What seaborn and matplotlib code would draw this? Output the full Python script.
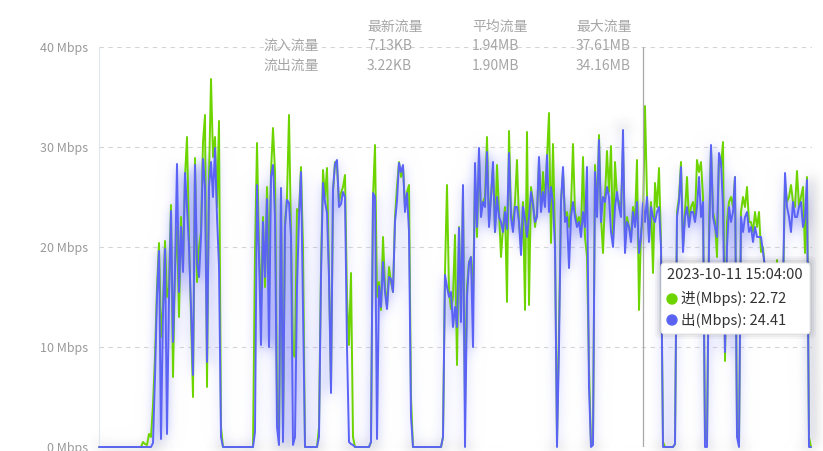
import matplotlib
matplotlib.use('Agg')
import matplotlib.pyplot as plt
from matplotlib.patches import FancyBboxPatch, Circle
from matplotlib.transforms import IdentityTransform
import seaborn as sns
import pandas as pd
import numpy as np


# traffic samples (Mbps), one every 3 minutes
flow_out = [
    0, 0, 0, 0, 0, 0, 0, 0, 0, 0,
    0, 0, 0, 0, 0, 0, 0, 0, 0, 0,
    0, 0, 0, 0, 0, 0, 0, 0.4, 7, 15,
    19.6, 0.8, 13.5, 19.8, 1.3, 15, 23.6, 10.5, 17.5, 28.3,
    15.5, 22, 17.5, 27.4, 24, 20, 14, 7.2, 28.2, 18.5,
    17, 21, 28.8, 26, 8.5, 26, 28.5, 25, 29.9, 23,
    18, 1, 0, 0, 0, 0, 0, 0, 0, 0,
    0, 0, 0, 0, 0, 0, 0, 0, 1.5, 26.2,
    19, 10.2, 22.5, 17, 24.8, 10, 27, 28.2, 23, 2,
    0.2, 25.9, 0.5, 22, 24.7, 24.4, 21, 0.2, 1, 16,
    23, 27.5, 14, 0, 0, 0, 0, 0, 0, 0,
    1, 17, 26.4, 24.5, 23.4, 17, 5.4, 25.7, 28.3, 28.7,
    24, 24.3, 25.5, 25, 10, 0.5, 0.3, 0.2, 0, 0,
    0, 0, 0, 0, 0, 0, 0.5, 25.4, 25, 0.8,
    16.1, 14, 18.5, 15.5, 13.8, 17, 16.8, 15.5, 22.5, 24.6,
    28.4, 27.5, 28.2, 23.5, 25.4, 21.5, 3, 0, 0, 0,
    0, 0, 0, 0, 0, 0, 0, 0, 0, 0,
    0, 0, 1, 17.2, 16, 15, 15.5, 12, 14, 12,
    21.9, 12.5, 26.2, 0, 15, 18.4, 19, 10, 28.4, 22,
    29.9, 23, 24.5, 24, 29.5, 22, 25, 28.5, 21.5, 25,
    23, 22.5, 21.5, 23.5, 21.8, 29.4, 23, 21.5, 24, 24,
    22.5, 19.2, 24, 22.8, 21, 23, 25.5, 24.2, 22.5, 23,
    29, 23.5, 25.5, 24, 29.2, 23.5, 26, 24.4, 20, 0,
    10, 24.5, 28, 22.5, 23, 17.9, 23, 24.5, 23, 22,
    22.5, 21, 23.5, 22, 28, 6, 0, 0.2, 27.5, 23,
    30.7, 22.5, 25, 24.5, 26, 25, 21.5, 20, 24, 25.5,
    24, 23, 31.7, 19.4, 22.5, 22, 20.5, 23.5, 22, 24.5,
    19.4, 21, 24.41, 22.5, 25, 20.5, 24, 23, 22.5, 23.5,
    24, 20, 0, 0, 0, 0, 0, 0, 0.3, 23,
    24.5, 28, 19.5, 23, 24, 22, 23.5, 23.5, 22.5, 24,
    27, 23, 24.5, 0, 0, 20, 30.2, 23, 22, 21,
    29.4, 28.5, 24, 9.5, 20, 24, 22.5, 23.5, 27, 1,
    0, 23, 21.5, 23, 23.5, 21.5, 22, 20.5, 22, 21,
    21, 21, 19.5, 18, 14.5, 15, 14, 14.5, 15.5, 17.5,
    15, 17, 16, 27.4, 24, 23, 21.5, 24.5, 23, 23,
    24, 24.5, 22, 23, 26.7, 0, 0,
]
flow_in = [
    0, 0, 0, 0, 0, 0, 0, 0, 0, 0,
    0, 0, 0, 0, 0, 0, 0, 0, 0, 0,
    0, 0, 0.5, 0.3, 0.2, 1.3, 1.0, 4.2, 9, 16,
    20.4, 11, 14, 20.6, 15, 16, 24.2, 7, 18, 22,
    13, 23, 18, 27, 31, 21, 13, 5, 28.9, 16.5,
    20, 21.5, 30.5, 33.2, 6, 27, 36.8, 29, 31, 24,
    32.6, 2, 0, 0, 0, 0, 0, 0, 0, 0,
    0, 0, 0, 0, 0, 0, 0, 0, 19.4, 30.4,
    20, 14, 23, 16, 26, 18, 27.5, 31.9, 27.5, 5,
    0.5, 25.5, 1, 22.5, 25, 33.2, 21.5, 9.3, 9, 23.8,
    23.5, 28, 20, 0, 0, 0, 0, 0, 0, 0,
    2, 18, 27.7, 25, 27.9, 17.5, 6, 25.5, 28.5, 28,
    24.5, 25.4, 26, 27.2, 15, 10.2, 17.4, 1, 0, 0,
    0, 0, 0, 0, 0, 0, 0.5, 25, 30.2, 15,
    16.5, 13.7, 21, 16, 14, 18, 16.5, 15.5, 23, 26,
    28.5, 27, 28, 24, 25.5, 26.2, 5, 0, 0, 0,
    0, 0, 0, 0, 0, 0, 0, 0, 0, 0,
    0, 0, 1, 17.5, 26.2, 15.5, 13.8, 15, 21.2, 8.2,
    22, 13, 25.5, 4, 16, 18.5, 19, 15, 27, 21,
    29, 23.5, 24.5, 25, 31, 22.5, 25, 28, 21.5, 28.2,
    23.5, 19, 22, 24, 14.5, 31.6, 23.5, 22, 24.5, 28.7,
    22.5, 20, 24.5, 13.7, 31.5, 14.2, 26, 24.5, 22, 23.5,
    28.5, 24, 27.5, 24.5, 29, 33.4, 20.4, 30.3, 21, 0.5,
    12, 24.5, 27.5, 23, 23.5, 22, 24, 30.3, 23.5, 22.5,
    23, 21.5, 29, 21, 19, 8, 0.3, 0.5, 28.2, 23.5,
    31.2, 23, 19.4, 25, 29.6, 25.5, 30.1, 20.5, 28.5, 25,
    24.5, 23.5, 30, 20.5, 23, 22, 21, 24, 22.5, 28.7,
    13.7, 21.5, 22.72, 34.1, 25, 21, 24.5, 17.4, 26.4, 24,
    27.9, 20.5, 0.5, 0, 0, 0, 0, 0, 0.3, 23.5,
    25, 28.5, 20, 23.5, 27, 22.5, 24, 24.5, 23, 28.7,
    27.5, 28.5, 25, 1, 0.5, 22, 30, 23.5, 22.5, 19,
    29, 28, 30.5, 8.6, 22.5, 24.5, 25, 24, 27, 2,
    0.3, 23.5, 25, 24, 26, 22.5, 22.5, 21.5, 23.5, 22,
    23.5, 19.5, 20, 17.5, 15, 15.5, 13, 15.5, 16, 18.7,
    14, 17, 15.5, 26.5, 24.5, 25, 26.2, 24.5, 24, 27.6,
    24, 25, 26, 19.4, 27, 1, 0,
]
y_ticks = [0, 10, 20, 30, 40]
stat_cols = ['最新流量', '平均流量', '最大流量']
stat_rows = ['流入流量', '流出流量']
stat_vals = [['7.13KB', '1.94MB', '37.61MB'],
             ['3.22KB', '1.90MB', '34.16MB']]
hover_time = '2023-10-11 15:04:00'
hover_in = 22.72
hover_out = 24.41

GREEN = '#6dd400'
BLUE = '#5b63f5'

sns.set_style('white')
plt.rcParams['font.family'] = ['Noto Sans CJK SC', 'DejaVu Sans']

times = pd.date_range('2023-10-11 01:28', periods=len(flow_in), freq='3min')
df = pd.DataFrame({'time': times, 'in': flow_in, 'out': flow_out})

W, H = 823, 451
fig = plt.figure(figsize=(W / 100, H / 100), dpi=100)
ax = fig.add_axes([99 / W, 4 / H, 713 / W, 400 / H])


def fxy(x, y):
    # pixel position (from top-left) -> figure fraction
    return x / W, 1 - y / H


def blur(im, dpi, pad=24, sigma=7.0):
    # gaussian blur used as an agg filter for the line shadow
    a = np.zeros((im.shape[0] + 2 * pad, im.shape[1] + 2 * pad, 4))
    a[pad:-pad, pad:-pad] = im
    k = np.exp(-np.arange(-pad, pad + 1) ** 2 / (2 * sigma ** 2))
    k /= k.sum()
    for axis in (0, 1):
        b = np.zeros_like(a)
        for j, wt in enumerate(k):
            b += wt * np.roll(a, j - pad, axis=axis)
        a = b
    return a, -pad, -pad


# soft shadow under the outgoing line
glow, = ax.plot(df['time'], df['out'], color=BLUE, lw=5, alpha=0.45, zorder=1)
glow.set_agg_filter(blur)

sns.lineplot(data=df, x='time', y='in', color=GREEN, lw=1.4, ax=ax,
             clip_on=False, zorder=3)
sns.lineplot(data=df, x='time', y='out', color=BLUE, lw=1.4, ax=ax,
             clip_on=False, zorder=4)

ax.set_xlim(times[0], times[0] + pd.Timedelta(minutes=3 * 713 / 2))
ax.set_ylim(0, 40)
ax.set_xticks([])
ax.set_yticks(y_ticks)
ax.set_yticklabels([f'{t} Mbps' for t in y_ticks])
ax.tick_params(axis='y', length=0, pad=8, labelcolor='#9a9a9a', labelsize=9)
ax.set_xlabel('')
ax.set_ylabel('')
for t in y_ticks:
    ax.axhline(t, color='#d4d4d4', lw=0.8, ls=(0, (4, 4)), zorder=0)
for s in ['top', 'right', 'bottom']:
    ax.spines[s].set_visible(False)
ax.spines['left'].set_color('#e0e6f1')
ax.spines['left'].set_linewidth(0.8)

# hover line
ax.axvline(pd.Timestamp(hover_time), color='#a8a8a8', lw=0.9, zorder=5)

# stats table on top
col_x = [367, 472, 576]
for cx, c in zip(col_x, stat_cols):
    fig.text(*fxy(cx, 27), c, color='#a6a6a6', fontsize=10, va='center')
for r, (label, vals) in enumerate(zip(stat_rows, stat_vals)):
    ry = 46 + 20 * r
    fig.text(*fxy(263, ry), label, color='#a6a6a6', fontsize=10, va='center')
    for cx, v in zip(col_x, vals):
        fig.text(*fxy(cx, ry), v, color='#a6a6a6', fontsize=10, va='center')

# tooltip
tx, ty, tw, th = 661, 263, 149, 71
for grow, a in [(6, 0.03), (4, 0.04), (2, 0.06)]:
    fig.add_artist(FancyBboxPatch(
        (tx - grow, H - ty - th - grow + 1), tw + 2 * grow, th + 2 * grow,
        boxstyle='round,pad=0,rounding_size=6', transform=IdentityTransform(),
        facecolor='#000000', edgecolor='none', alpha=a, zorder=9))
fig.add_artist(FancyBboxPatch(
    (tx, H - ty - th), tw, th, boxstyle='round,pad=0,rounding_size=4',
    transform=IdentityTransform(), facecolor='white', edgecolor='#e6e6e6',
    lw=0.8, zorder=10))
fig.text(*fxy(667, 275), hover_time, color='#333333', fontsize=10.5,
         va='center', zorder=11)
for k, (name, val, col) in enumerate([('进', hover_in, GREEN),
                                      ('出', hover_out, BLUE)]):
    ry = 299 + 21 * k
    fig.add_artist(Circle((672, H - ry), 5, transform=IdentityTransform(),
                          color=col, zorder=11))
    fig.text(*fxy(681, ry), f'{name}(Mbps): {val:.2f}', color='#333333',
             fontsize=10.5, va='center', zorder=11)

fig.savefig('out.png', dpi=100)
